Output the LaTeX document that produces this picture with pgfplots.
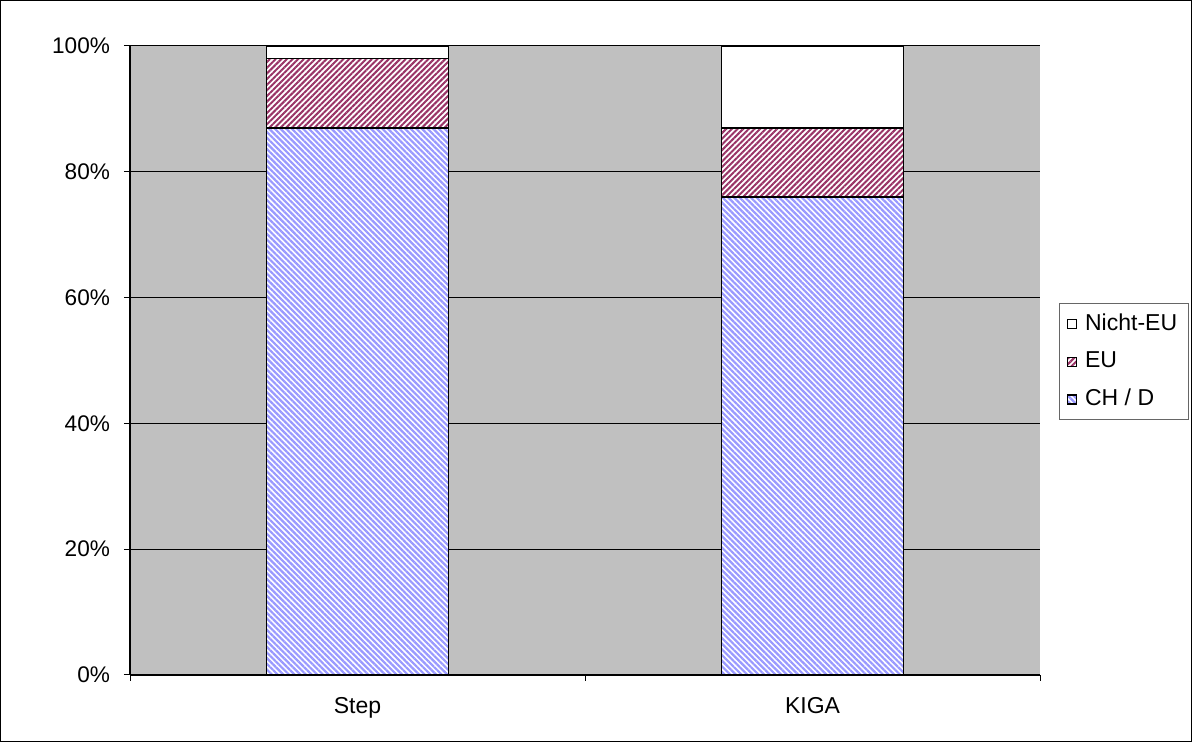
\documentclass[border=0pt]{standalone}
\usepackage{pgfplots}
\pgfplotsset{compat=1.18}
\usepackage{fontspec}
\setmainfont{Liberation Sans}
\usetikzlibrary{patterns.meta}
\definecolor{plotgray}{RGB}{192,192,192}
\definecolor{maroonp}{RGB}{153,51,102}
\definecolor{bluep}{RGB}{153,153,255}
\begin{document}
\fontsize{11.5}{13}\selectfont
\begin{tikzpicture}
\useasboundingbox (0,0) rectangle (596pt,371pt);
\begin{axis}[
  at={(65pt,33.5pt)}, anchor=south west,
  width=455pt, height=314.5pt, scale only axis,
  /pgf/number format/assume math mode=true,
  axis background/.style={fill=plotgray},
  ybar stacked, bar width=91pt,
  xmin=0.5, xmax=2.5, ymin=0, ymax=100,
  xtick={1,2}, xticklabels={Step,KIGA},
  minor xtick={0.5,1.5,2.5},
  major x tick style={draw=none},
  ytick={0,20,40,60,80,100},
  yticklabel={\pgfmathprintnumber{\tick}\%},
  tick align=outside, major tick length=3pt, minor tick length=3pt,
  tick style={black, line width=0.5pt},
  axis lines*=left,
  axis line style={black, line width=0.6pt},
  ymajorgrids, major grid style={black, line width=0.5pt},
  yticklabel style={xshift=-3pt, font=\fontsize{11.3}{13}\selectfont},
  xticklabel style={yshift=-4pt, font=\fontsize{11.5}{13}\selectfont},
  every axis plot/.append style={draw=black, line width=0.8pt},
  reverse legend,
  legend style={at={(1.0209,0.5914)}, anchor=north west, draw=black!60, line width=0.5pt,
    font=\fontsize{11.5}{13}\selectfont, row sep=5pt, inner xsep=3.5pt, inner ysep=3pt, cells={anchor=west}},
  legend image code/.code={\draw[#1, line width=0.6pt] (0pt,-2.5pt) rectangle (4.5pt,2pt);
    \pgfpathmoveto{\pgfpoint{0pt}{0pt}}\pgfpathlineto{\pgfpoint{7pt}{0pt}}\pgfusepath{use as bounding box}},
]
\addplot[fill=white, postaction={pattern={Lines[angle=-45,distance=2pt,line width=1.1pt]}, pattern color=bluep}] coordinates {(1,87) (2,76)};
\addplot[fill=white, postaction={pattern={Lines[angle=45,distance=2pt,line width=1pt]}, pattern color=maroonp}] coordinates {(1,11) (2,11)};
\addplot[fill=white] coordinates {(1,2) (2,13)};
\legend{CH / D, EU, Nicht-EU}
\end{axis}
\draw[black, line width=0.6pt] (0.3pt,0.3pt) rectangle (595.7pt,370.7pt);
\end{tikzpicture}
\end{document}
